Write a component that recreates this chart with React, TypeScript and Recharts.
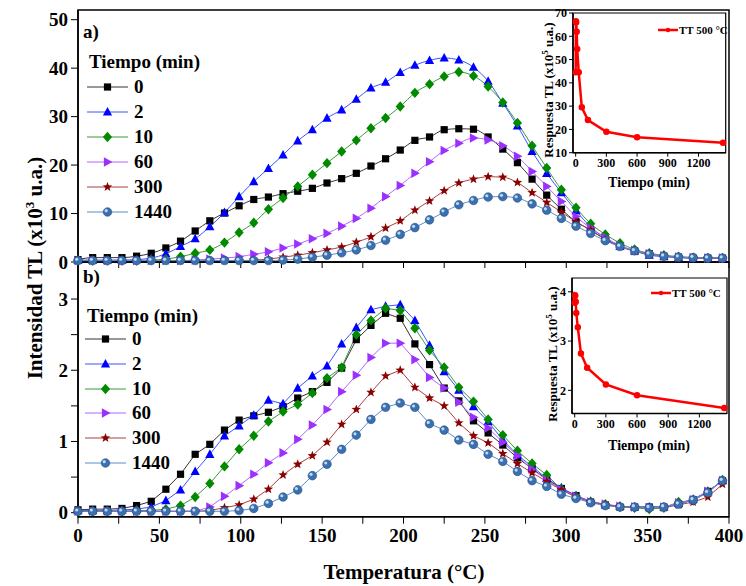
import { LineChart, Line, XAxis, YAxis, ReferenceArea } from "recharts";

const FONT = "'Liberation Serif', 'Times New Roman', serif";

// temperatura (°C), one marker every 9 degrees
const temps = [
  0, 9, 18, 27, 36, 45, 54, 63, 72, 81, 90, 99, 108, 117, 126, 135, 144, 153, 162, 171, 180, 189, 198,
  207, 216, 225, 234, 243, 252, 261, 270, 279, 288, 297, 306, 315, 324, 333, 342, 351, 360, 369, 378,
  387, 396,
];

// panel a) intensidad TL (x10^3 u.a.)
const topT0 = [0.5, 0.9, 0.9, 0.9, 1.2, 1.8, 2.9, 4.3, 6.4, 8.5, 10.1, 11.6, 12.9, 13.4, 14.1, 14.6, 15.2, 16.3, 17.2, 18.3, 19.8, 21.3, 23.1, 25.1, 25.8, 27.3, 27.5, 27.4, 25.8, 23.3, 20.5, 17.1, 13.8, 10.9, 8.3, 6.6, 4.7, 3.3, 2.3, 1.7, 1.2, 1.0, 0.8, 0.8, 0.8];
const topT2 = [0.4, 0.4, 0.4, 0.4, 0.5, 0.8, 1.7, 3.2, 4.8, 7.3, 10.2, 13.5, 16.6, 19.3, 22.1, 25.0, 27.3, 29.7, 31.4, 33.6, 35.9, 37.1, 39.1, 40.6, 41.6, 42.1, 41.7, 40.2, 37.3, 32.8, 28.1, 22.8, 18.3, 14.3, 10.6, 7.2, 4.9, 3.2, 2.3, 1.4, 1.1, 0.9, 0.8, 0.8, 0.8];
const topT10 = [0.3, 0.3, 0.3, 0.3, 0.3, 0.4, 0.6, 1.1, 1.8, 2.5, 4.0, 6.1, 8.1, 10.9, 13.2, 15.6, 18.0, 20.4, 22.8, 25.1, 27.6, 29.7, 32.1, 34.9, 36.7, 38.3, 39.2, 38.4, 36.2, 32.9, 28.7, 24.0, 19.4, 14.9, 11.2, 7.9, 5.7, 3.9, 2.6, 1.8, 1.4, 1.1, 0.9, 0.8, 0.8];
const topT60 = [0.3, 0.3, 0.3, 0.3, 0.3, 0.3, 0.3, 0.3, 0.4, 0.6, 0.8, 1.1, 1.6, 2.1, 2.9, 3.7, 4.8, 5.9, 7.4, 9.0, 11.1, 13.5, 15.8, 18.3, 20.7, 23.0, 24.5, 25.6, 25.2, 24.0, 21.8, 18.7, 15.6, 12.5, 9.4, 7.0, 5.1, 3.4, 2.4, 1.7, 1.3, 1.0, 0.9, 0.8, 0.8];
const topT300 = [0.3, 0.3, 0.3, 0.3, 0.3, 0.3, 0.3, 0.3, 0.3, 0.3, 0.3, 0.3, 0.4, 0.6, 1.0, 1.4, 1.9, 2.5, 3.1, 4.1, 5.2, 7.0, 8.5, 10.7, 12.6, 14.7, 16.3, 17.1, 17.6, 17.5, 16.4, 14.3, 12.3, 10.3, 8.3, 6.6, 4.6, 3.2, 2.2, 1.6, 1.2, 1.0, 0.9, 0.8, 0.8];
const topT1440 = [0.3, 0.3, 0.3, 0.3, 0.3, 0.3, 0.3, 0.3, 0.3, 0.3, 0.3, 0.3, 0.3, 0.3, 0.4, 0.6, 1.0, 1.4, 1.9, 2.5, 3.4, 4.5, 5.7, 7.1, 8.7, 10.3, 11.8, 12.7, 13.4, 13.5, 13.2, 12.0, 10.7, 9.0, 7.4, 5.9, 4.4, 3.2, 2.3, 1.6, 1.2, 1.0, 0.9, 0.8, 0.8];

// panel b) intensidad TL (x10^3 u.a.)
const botT0 = [0.04, 0.05, 0.05, 0.06, 0.10, 0.16, 0.33, 0.54, 0.82, 0.96, 1.16, 1.30, 1.36, 1.41, 1.49, 1.61, 1.70, 1.83, 2.03, 2.43, 2.63, 2.80, 2.73, 2.37, 2.08, 1.75, 1.57, 1.29, 1.12, 0.95, 0.77, 0.62, 0.47, 0.34, 0.24, 0.15, 0.11, 0.08, 0.08, 0.08, 0.08, 0.12, 0.18, 0.30, 0.45];
const botT2 = [0.03, 0.03, 0.03, 0.04, 0.05, 0.08, 0.17, 0.32, 0.58, 0.82, 1.08, 1.22, 1.37, 1.58, 1.53, 1.75, 1.92, 2.06, 2.37, 2.60, 2.85, 2.90, 2.92, 2.70, 2.35, 1.98, 1.72, 1.49, 1.28, 1.02, 0.81, 0.65, 0.48, 0.35, 0.24, 0.16, 0.11, 0.09, 0.08, 0.08, 0.08, 0.13, 0.19, 0.30, 0.45];
const botT10 = [0.02, 0.02, 0.02, 0.02, 0.03, 0.03, 0.05, 0.10, 0.22, 0.41, 0.65, 0.89, 1.08, 1.28, 1.42, 1.52, 1.68, 1.89, 2.04, 2.50, 2.70, 2.87, 2.84, 2.59, 2.28, 2.04, 1.76, 1.56, 1.31, 1.09, 0.87, 0.69, 0.53, 0.33, 0.23, 0.15, 0.12, 0.08, 0.07, 0.05, 0.07, 0.15, 0.17, 0.29, 0.46];
const botT60 = [0.02, 0.02, 0.02, 0.02, 0.02, 0.02, 0.02, 0.02, 0.02, 0.08, 0.23, 0.38, 0.54, 0.70, 0.84, 1.03, 1.23, 1.45, 1.70, 1.93, 2.18, 2.38, 2.38, 2.15, 1.90, 1.75, 1.55, 1.34, 1.19, 0.99, 0.80, 0.61, 0.46, 0.33, 0.23, 0.15, 0.12, 0.09, 0.08, 0.07, 0.08, 0.14, 0.18, 0.30, 0.45];
const botT300 = [0.02, 0.02, 0.02, 0.02, 0.02, 0.02, 0.02, 0.02, 0.02, 0.03, 0.07, 0.11, 0.19, 0.33, 0.53, 0.68, 0.80, 0.99, 1.24, 1.45, 1.69, 1.92, 2.00, 1.76, 1.61, 1.50, 1.26, 1.08, 0.98, 0.83, 0.69, 0.56, 0.44, 0.32, 0.22, 0.15, 0.11, 0.09, 0.08, 0.07, 0.07, 0.11, 0.15, 0.22, 0.40];
const botT1440 = [0.02, 0.02, 0.02, 0.02, 0.02, 0.02, 0.02, 0.02, 0.02, 0.02, 0.02, 0.03, 0.06, 0.13, 0.22, 0.32, 0.52, 0.68, 0.89, 1.09, 1.31, 1.48, 1.54, 1.48, 1.25, 1.16, 1.02, 0.96, 0.82, 0.72, 0.58, 0.45, 0.37, 0.26, 0.20, 0.14, 0.10, 0.08, 0.08, 0.07, 0.08, 0.12, 0.18, 0.28, 0.45];

// insets: respuesta TL (x10^5 u.a.) vs tiempo (min), TT 500 °C
const insetTimes = [0, 2, 5, 10, 15, 30, 60, 120, 300, 600, 1440];
const insetA = [44.5, 66.5, 66.0, 62.0, 54.5, 44.5, 29.5, 24.0, 19.0, 16.6, 14.3];
const insetB = [3.78, 3.93, 3.92, 3.8, 3.57, 3.28, 2.75, 2.46, 2.12, 1.9, 1.64];

const xTicks = [0, 25, 50, 75, 100, 125, 150, 175, 200, 225, 250, 275, 300, 325, 350, 375, 400];
const topYTicks = [0, 10, 20, 30, 40, 50];
const botYTicks = [0, 0.5, 1, 1.5, 2, 2.5, 3];
const insetXTicks = [0, 300, 600, 900, 1200];
const insetATicks = [10, 20, 30, 40, 50, 60, 70];
const insetBTicks = [2, 3, 4];

const series = [
  { key: "s0", name: "0", shape: "square", color: "#000000", line: "#333333" },
  { key: "s2", name: "2", shape: "triangle", color: "#0000ff", line: "#3a55ff" },
  { key: "s10", name: "10", shape: "diamond", color: "#008a00", line: "#3a9a3a" },
  { key: "s60", name: "60", shape: "right", color: "#9b30ff", line: "#b266ff" },
  { key: "s300", name: "300", shape: "star", color: "#8b0000", line: "#a84040" },
  { key: "s1440", name: "1440", shape: "sphere", color: "#3a70b0", line: "#5a8ccc" },
];

const rowsA = temps.map((t, i) => ({
  t, s0: topT0[i], s2: topT2[i], s10: topT10[i], s60: topT60[i], s300: topT300[i], s1440: topT1440[i],
}));
const rowsB = temps.map((t, i) => ({
  t, s0: botT0[i], s2: botT2[i], s10: botT10[i], s60: botT60[i], s300: botT300[i], s1440: botT1440[i],
}));
const rowsInsetA = insetTimes.map((t, i) => ({ t, v: insetA[i] }));
const rowsInsetB = insetTimes.map((t, i) => ({ t, v: insetB[i] }));

function Mark({ cx, cy, shape, color }: { cx: number; cy: number; shape: string; color: string }) {
  if (cx == null || cy == null) return null;
  if (shape === "square") return <rect x={cx - 3.6} y={cy - 3.6} width={7.2} height={7.2} fill={color} />;
  if (shape === "triangle")
    return <polygon points={`${cx},${cy - 5} ${cx - 4.6},${cy + 3.6} ${cx + 4.6},${cy + 3.6}`} fill={color} />;
  if (shape === "diamond")
    return <polygon points={`${cx},${cy - 5.2} ${cx + 4.6},${cy} ${cx},${cy + 5.2} ${cx - 4.6},${cy}`} fill={color} />;
  if (shape === "right")
    return <polygon points={`${cx - 3.6},${cy - 4.8} ${cx + 5},${cy} ${cx - 3.6},${cy + 4.8}`} fill={color} />;
  if (shape === "star") {
    const pts: string[] = [];
    for (let k = 0; k < 10; k++) {
      const r = k % 2 === 0 ? 5 : 2.1;
      const a = -Math.PI / 2 + (k * Math.PI) / 5;
      pts.push(`${cx + r * Math.cos(a)},${cy + r * Math.sin(a)}`);
    }
    return <polygon points={pts.join(" ")} fill={color} />;
  }
  return (
    <g>
      <circle cx={cx} cy={cy} r={4.3} fill={color} stroke="#24507f" strokeWidth={0.6} />
      <circle cx={cx - 1.3} cy={cy - 1.3} r={1.6} fill="#c0d8f2" />
    </g>
  );
}

const tickStyle = { fontSize: 19, fontWeight: 700, fill: "#000", fontFamily: FONT };
const insetTick = { fontSize: 12, fontWeight: 700, fill: "#000", fontFamily: FONT };
const axisLine = { stroke: "#000", strokeWidth: 1.5 };

function seriesLines(type: "monotone" | "linear") {
  return series.map((s) => (
    <Line
      key={s.key}
      dataKey={s.key}
      type={type}
      stroke={s.line}
      strokeWidth={1}
      isAnimationActive={false}
      activeDot={false}
      dot={(p: any) => <Mark key={`${s.key}-${p.index}`} cx={p.cx} cy={p.cy} shape={s.shape} color={s.color} />}
    />
  ));
}

function SeriesLegend({ left, titleY, firstY, step }: { left: number; titleY: number; firstY: number; step: number }) {
  return (
    <>
      <div style={{ position: "absolute", left: left + 2, top: titleY - 11, fontSize: 19, lineHeight: "22px" }}>
        Tiempo (min)
      </div>
      {series.map((s, i) => (
        <div
          key={s.key}
          style={{ position: "absolute", left, top: firstY + i * step - 11, height: 22, display: "flex", alignItems: "center" }}
        >
          <svg width={42} height={14}>
            <line x1={0} y1={7} x2={41} y2={7} stroke={s.line} strokeWidth={1} />
            <Mark cx={20.5} cy={7} shape={s.shape} color={s.color} />
          </svg>
          <span style={{ marginLeft: 5, fontSize: 19, lineHeight: "22px" }}>{s.name}</span>
        </div>
      ))}
    </>
  );
}

function InsetLegend({ left, top }: { left: number; top: number }) {
  return (
    <div style={{ position: "absolute", left, top: top - 7, height: 14, display: "flex", alignItems: "center" }}>
      <svg width={20} height={10}>
        <line x1={0} y1={5} x2={20} y2={5} stroke="#ff0000" strokeWidth={2.5} />
        <circle cx={10} cy={5} r={2.2} fill="#ff0000" />
      </svg>
      <span style={{ marginLeft: 1, fontSize: 11, lineHeight: "14px" }}>TT 500 °C</span>
    </div>
  );
}

function Rotated({ x, y, size, children }: { x: number; y: number; size: number; children: any }) {
  return (
    <div
      style={{
        position: "absolute", left: x, top: y, fontSize: size, whiteSpace: "nowrap",
        transform: "translate(-50%, -50%) rotate(-90deg)", lineHeight: 1,
      }}
    >
      {children}
    </div>
  );
}

function Inset({ top, rows, yDomain, yTicks, margin }: { top: number; rows: any[]; yDomain: number[]; yTicks: number[]; margin: any }) {
  return (
    <div style={{ position: "absolute", left: 500, top }}>
      <LineChart width={246} height={200} data={rows} margin={margin}>
        <XAxis
          dataKey="t" type="number" domain={[-26, 1466]} ticks={insetXTicks} tick={insetTick} interval={0}
          tickSize={4} tickMargin={2} axisLine={axisLine} tickLine={{ stroke: "#000" }} height={25}
        />
        <YAxis
          type="number" domain={yDomain} ticks={yTicks} tick={insetTick} tickSize={4} tickMargin={2} interval={0}
          axisLine={axisLine} tickLine={{ stroke: "#000" }} width={28} allowDataOverflow
        />
        <ReferenceArea x1={-26} x2={1466} y1={yDomain[0]} y2={yDomain[1]} fill="none" stroke="#000" strokeWidth={1.2} />
        <Line
          dataKey="v" type="linear" stroke="#ff0000" strokeWidth={2.5} isAnimationActive={false} activeDot={false}
          dot={{ r: 2, fill: "#ff0000", stroke: "#ff0000" }}
        />
      </LineChart>
    </div>
  );
}

export default function App() {
  return (
    <div
      style={{
        position: "absolute", left: 0, top: 0, width: 746, height: 586, background: "#fff",
        fontFamily: FONT, fontWeight: 700, color: "#000",
      }}
    >
      <div style={{ position: "absolute", left: 0, top: 262 }}>
        <LineChart width={746} height={324} data={rowsB} margin={{ top: 0, right: 17, bottom: 39.3, left: 38 }}>
          <XAxis
            dataKey="t" type="number" domain={[0, 400]} ticks={xTicks} tick={tickStyle} interval={0}
            tickFormatter={(v: number) => (v % 50 === 0 ? String(v) : "")}
            tickSize={7} tickMargin={5} axisLine={axisLine} tickLine={{ stroke: "#000" }} height={30}
          />
          <YAxis
            type="number" domain={[-0.056, 3.52]} ticks={botYTicks} tick={tickStyle} interval={0}
            tickFormatter={(v: number) => (Number.isInteger(v) ? String(v) : "")}
            tickSize={7} tickMargin={3} axisLine={axisLine} tickLine={{ stroke: "#000" }} width={40}
          />
          <ReferenceArea x1={0} x2={400} y1={-0.056} y2={3.52} fill="none" stroke="#000" strokeWidth={1.5} />
          {seriesLines("linear")}
        </LineChart>
      </div>

      <div style={{ position: "absolute", left: 0, top: 0 }}>
        <LineChart width={746} height={272} data={rowsA} margin={{ top: 10, right: 17, bottom: 0, left: 38 }}>
          <XAxis
            dataKey="t" type="number" domain={[0, 400]} ticks={xTicks} tickFormatter={() => ""} interval={0}
            tickSize={6} axisLine={axisLine} tickLine={{ stroke: "#000" }} height={10}
          />
          <YAxis
            type="number" domain={[0, 52]} ticks={topYTicks} tick={tickStyle} interval={0}
            tickSize={7} tickMargin={3} axisLine={axisLine} tickLine={{ stroke: "#000" }} width={40}
          />
          <ReferenceArea x1={0} x2={400} y1={0} y2={52} fill="none" stroke="#000" strokeWidth={1.5} />
          {seriesLines("monotone")}
        </LineChart>
      </div>

      <Inset top={0} rows={rowsInsetA} yDomain={[10, 70]} yTicks={insetATicks} margin={{ top: 13, right: 20.3, bottom: 22.3, left: 45 }} />
      <Inset top={262} rows={rowsInsetB} yDomain={[1.53, 4.28]} yTicks={insetBTicks} margin={{ top: 16, right: 19, bottom: 23.5, left: 44 }} />

      <InsetLegend left={658} top={30} />
      <InsetLegend left={651} top={293} />

      <Rotated x={548} y={90} size={13}>
        Respuesta TL (x10<sup style={{ fontSize: 9 }}>5</sup> u.a.)
      </Rotated>
      <Rotated x={552} y={354} size={13}>
        Respuesta TL (x10<sup style={{ fontSize: 9 }}>5</sup> u.a.)
      </Rotated>
      <div style={{ position: "absolute", left: 649, top: 183, transform: "translate(-50%, -50%)", fontSize: 14, whiteSpace: "nowrap" }}>
        Tiempo (min)
      </div>
      <div style={{ position: "absolute", left: 649, top: 446, transform: "translate(-50%, -50%)", fontSize: 14, whiteSpace: "nowrap" }}>
        Tiempo (min)
      </div>

      <SeriesLegend left={87} titleY={62} firstY={87} step={25} />
      <SeriesLegend left={85} titleY={316} firstY={339} step={24.8} />

      <div style={{ position: "absolute", left: 83, top: 21, fontSize: 19, lineHeight: "22px" }}>a)</div>
      <div style={{ position: "absolute", left: 83, top: 266, fontSize: 19, lineHeight: "22px" }}>b)</div>

      <Rotated x={34} y={268} size={21}>
        Intensidad TL (x10<sup style={{ fontSize: 13 }}>3</sup> u.a.)
      </Rotated>
      <div style={{ position: "absolute", left: 404, top: 572, transform: "translate(-50%, -50%)", fontSize: 21, whiteSpace: "nowrap" }}>
        Temperatura (°C)
      </div>
    </div>
  );
}
